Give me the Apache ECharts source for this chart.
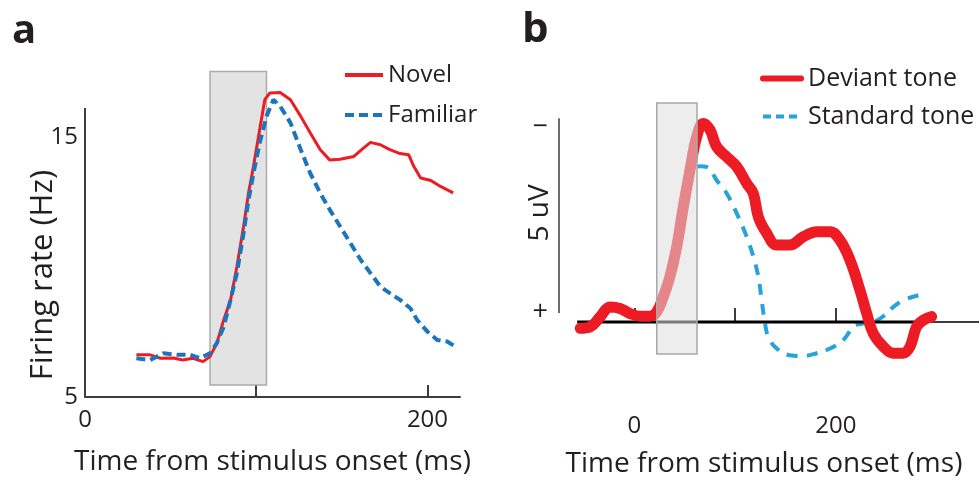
<!DOCTYPE html>
<html>
<head>
<meta charset="utf-8">
<script src="https://cdn.jsdelivr.net/npm/echarts@6/dist/echarts.min.js"></script>
<style>
  html, body { margin: 0; padding: 0; background: #fff; }
  #main { width: 979px; height: 483px; }
</style>
</head>
<body>
<div id="main"></div>
<script>
// ---- panel a: firing rate (Hz) vs time (ms)
const novelTime = [30, 38, 44, 51.5, 57, 63, 69, 73, 77, 81, 85, 88.7, 92.6, 95.5, 98.4, 102, 105, 108, 114, 120, 126, 131.5, 137.4, 143, 149, 157, 162.6, 166.7, 172.5, 178, 184, 189, 192, 196, 202, 207.6, 215]
const novelRate = [6.62, 6.62, 6.49, 6.5, 6.42, 6.49, 6.36, 6.55, 7.07, 7.96, 8.73, 10.0, 11.55, 12.84, 13.86, 15.27, 16.42, 16.68, 16.7, 16.42, 15.78, 15.15, 14.5, 14.1, 14.13, 14.24, 14.56, 14.78, 14.69, 14.5, 14.35, 14.31, 13.86, 13.41, 13.32, 13.09, 12.84]
const familiarTime = [30, 38, 45.8, 53.6, 61.4, 67, 73, 77, 81, 85, 88.7, 92.6, 95.5, 98.4, 102, 106, 110, 114, 120, 126, 131.5, 137.4, 143, 149, 155, 161, 166.7, 172.5, 178, 184, 190, 194, 200, 205.7, 211.5, 216.4]
const familiarRate = [6.49, 6.42, 6.68, 6.62, 6.62, 6.49, 6.68, 7.07, 7.7, 8.73, 9.76, 11.3, 12.58, 13.6, 14.76, 15.78, 16.42, 16.17, 15.53, 14.5, 13.6, 12.83, 12.19, 11.55, 10.91, 10.27, 9.76, 9.24, 8.99, 8.73, 8.41, 7.96, 7.51, 7.19, 7.13, 6.93]
// shaded window [x0, x1, y0, y1]
const windowA = [73, 106, 5.46, 17.5]

// ---- panel b: ERP (uV, negative up) vs time (ms)
const deviantTime = [-54, -44, -34, -24.4, -14.5, -4.6, 5.4, 15.3, 22, 28.5, 35, 41.8, 48.4, 55, 61.7, 68.2, 75, 81.5, 91.5, 101.4, 111.3, 117.9, 122.9, 131.2, 141.1, 154.3, 167.5, 180.8, 194, 204, 213.9, 223.8, 230.5, 237, 247, 257, 266.8, 273.5, 280, 286.7, 295]
const deviantAmp = [0.16, 0.12, -0.14, -0.39, -0.35, -0.22, -0.15, -0.15, -0.26, -0.65, -1.16, -1.93, -2.96, -3.9, -4.76, -5.1, -4.93, -4.5, -4.24, -3.99, -3.56, -3.3, -2.7, -2.28, -1.98, -1.98, -2.19, -2.32, -2.32, -2.1, -1.59, -0.82, -0.22, 0.29, 0.63, 0.8, 0.8, 0.63, 0.12, -0.05, -0.14]
const standardTime = [-54, -44, -34, -24, -14, -4, 5, 15, 22, 28, 35, 42, 48, 55, 60, 65, 72, 81.5, 91.5, 101.4, 111.3, 117.9, 122.9, 126.2, 129.5, 132.8, 141.1, 154.3, 167.5, 180.8, 194, 207.3, 217.2, 224, 237, 247, 257, 266.8, 276.7, 289.9]
const standardAmp = [0.1, 0.1, -0.12, -0.35, -0.32, -0.2, -0.12, -0.12, -0.25, -0.6, -1.1, -1.85, -2.8, -3.6, -3.95, -4.0, -3.98, -3.64, -3.3, -2.79, -2.19, -1.68, -1.16, -0.56, 0.03, 0.38, 0.68, 0.85, 0.87, 0.8, 0.68, 0.46, 0.12, 0.05, 0.0, -0.15, -0.39, -0.56, -0.65, -0.74]
const baselineTime = [-57, 291]
const windowB = [22, 62, -5.62, 0.82]
// 5 uV scale bar: [x, yTop, yBottom]
const scaleBar = [-75, -5.23, -0.23]
const scaleLabelValues = [-5, -0.25]

const ink = '#231f20'
const axisInk = '#3d3d3d'
const font = 'Open Sans'

const zip = (xs, ys) => xs.map((x, i) => [x, ys[i]])

const rectItem = (fill, stroke) => (params, api) => {
  const p0 = api.coord([api.value(0), api.value(2)])
  const p1 = api.coord([api.value(1), api.value(3)])
  return {
    type: 'rect',
    shape: {
      x: Math.min(p0[0], p1[0]),
      y: Math.min(p0[1], p1[1]),
      width: Math.abs(p1[0] - p0[0]),
      height: Math.abs(p1[1] - p0[1])
    },
    style: { fill: fill, stroke: stroke, lineWidth: 1.5 }
  }
}

const chart = echarts.init(document.getElementById('main'))

const option = {
  animation: false,
  backgroundColor: '#fff',
  textStyle: { fontFamily: font, color: ink },
  grid: [
    { left: 85, right: 519, top: 69, bottom: 86 },
    { left: 549, right: 0, top: 100, bottom: 83 },
    { left: 589, right: 0, top: 100, bottom: 83 }
  ],
  xAxis: [
    {
      gridIndex: 0, type: 'value', min: 0, max: 219,
      axisLine: { lineStyle: { color: axisInk, width: 2 } },
      axisTick: { inside: true, length: 12, customValues: [100, 200], lineStyle: { color: axisInk, width: 2 } },
      axisLabel: { customValues: [0, 200], fontSize: 24, color: ink, margin: 11, fontFamily: font },
      splitLine: { show: false },
      name: 'Time from stimulus onset (ms)', nameLocation: 'middle', nameGap: 51,
      nameTextStyle: { fontSize: 28, color: ink, fontFamily: font }
    },
    {
      gridIndex: 1, type: 'value', min: -85, max: 342,
      axisLine: { show: false }, axisTick: { show: false }, axisLabel: { show: false },
      splitLine: { show: false },
      name: 'Time from stimulus onset (ms)', nameLocation: 'middle', nameGap: 50,
      nameTextStyle: { fontSize: 28, color: ink, fontFamily: font }
    },
    {
      gridIndex: 2, type: 'value', min: -45, max: 342,
      axisLine: { lineStyle: { color: axisInk, width: 2 } },
      axisTick: { inside: true, length: 14, customValues: [0, 100, 200], lineStyle: { color: axisInk, width: 2 } },
      axisLabel: { customValues: [0, 200], fontSize: 24, color: ink, margin: 14, fontFamily: font },
      splitLine: { show: false }
    }
  ],
  yAxis: [
    {
      gridIndex: 0, type: 'value', min: 5, max: 17.6,
      axisLine: { show: false }, axisTick: { show: false },
      axisLabel: { customValues: [5, 15], fontSize: 24, color: ink, margin: 7, fontFamily: font },
      splitLine: { show: false }
    },
    {
      gridIndex: 1, type: 'value', min: -5.7, max: 2.0, inverse: true,
      axisLine: { show: false }, axisTick: { show: false },
      axisLabel: {
        customValues: scaleLabelValues, fontSize: 27, color: ink, margin: 1, fontFamily: font,
        formatter: (v) => (v < -2 ? '\u2212' : '+')
      },
      splitLine: { show: false }
    },
    { gridIndex: 2, type: 'value', show: false, min: -5.7, max: 2.0, inverse: true }
  ],
  legend: [
    {
      left: 338, top: 58, orient: 'vertical', itemWidth: 38, itemHeight: 14, itemGap: 16,
      itemStyle: { opacity: 0 },
      textStyle: { fontSize: 24, color: ink, fontFamily: font },
      data: [
        { name: 'Novel', lineStyle: { width: 4 } },
        { name: 'Familiar', lineStyle: { width: 4 } }
      ]
    },
    {
      left: 755, top: 61, orient: 'vertical', itemWidth: 38, itemHeight: 14, itemGap: 13,
      itemStyle: { opacity: 0 },
      textStyle: { fontSize: 25, color: ink, fontFamily: font, padding: [0, 0, 0, 2] },
      data: [
        { name: 'Deviant tone', lineStyle: { width: 6 } },
        { name: 'Standard tone', lineStyle: { width: 4, type: [8, 5] } }
      ]
    }
  ],
  graphic: [
    { type: 'text', left: 12, top: 12, style: { text: 'a', fontSize: 40, fontWeight: 'bold', fill: ink, fontFamily: font } },
    { type: 'text', left: 522, top: 9, style: { text: 'b', fontSize: 42, fontWeight: 'bold', fill: ink, fontFamily: font } },
    {
      type: 'text', x: 43, y: 275, rotation: Math.PI / 2,
      style: { text: 'Firing rate (Hz)', fontSize: 31, fill: ink, fontFamily: font, align: 'center', verticalAlign: 'middle' }
    },
    {
      type: 'text', x: 540, y: 213, rotation: Math.PI / 2,
      style: { text: '5 uV', fontSize: 28, fill: ink, fontFamily: font, align: 'center', verticalAlign: 'middle' }
    }
  ],
  series: [
    // panel a
    {
      type: 'custom', xAxisIndex: 0, yAxisIndex: 0, z: 1,
      encode: { x: [0, 1], y: [2, 3] },
      renderItem: rectItem('#e3e3e3', '#ababab'),
      data: [windowA], silent: true
    },
    {
      name: 'Novel', type: 'line', xAxisIndex: 0, yAxisIndex: 0, z: 2,
      showSymbol: false, symbol: 'none', color: '#ed1c24',
      lineStyle: { width: 3, color: '#ed1c24' },
      data: zip(novelTime, novelRate),
      markLine: {
        silent: true, symbol: 'none', label: { show: false },
        lineStyle: { color: axisInk, width: 2, type: 'solid' },
        data: [[{ coord: [0, 5] }, { coord: [0, 16.1] }]]
      }
    },
    {
      name: 'Familiar', type: 'line', xAxisIndex: 0, yAxisIndex: 0, z: 2,
      showSymbol: false, symbol: 'none', color: '#1c75bc',
      lineStyle: { width: 4, color: '#1c75bc', type: [9, 5] },
      data: zip(familiarTime, familiarRate)
    },
    // panel b
    {
      name: 'Standard tone', type: 'line', xAxisIndex: 1, yAxisIndex: 1, z: 2,
      showSymbol: false, symbol: 'none', color: '#27a3dc', smooth: 0.4,
      lineStyle: { width: 4, color: '#27a3dc', type: [11, 9] },
      data: zip(standardTime, standardAmp)
    },
    {
      type: 'line', xAxisIndex: 1, yAxisIndex: 1, z: 2,
      showSymbol: false, symbol: 'none', silent: true,
      lineStyle: { width: 3, color: '#000' },
      data: baselineTime.map((t) => [t, 0]),
      markLine: {
        silent: true, symbol: 'none', label: { show: false },
        lineStyle: { color: axisInk, width: 1.5, type: 'solid' },
        data: [[{ coord: [scaleBar[0], scaleBar[1]] }, { coord: [scaleBar[0], scaleBar[2]] }]]
      }
    },
    {
      name: 'Deviant tone', type: 'line', xAxisIndex: 1, yAxisIndex: 1, z: 3,
      showSymbol: false, symbol: 'none', color: '#ed1c24', smooth: 0.4,
      lineStyle: { width: 11, color: '#ed1c24', cap: 'round', join: 'round' },
      data: zip(deviantTime, deviantAmp)
    },
    {
      type: 'custom', xAxisIndex: 1, yAxisIndex: 1, z: 5,
      encode: { x: [0, 1], y: [2, 3] },
      renderItem: rectItem('rgba(222,222,222,0.55)', '#a8a8a8'),
      data: [windowB], silent: true
    }
  ]
}

chart.setOption(option)
</script>
</body>
</html>
